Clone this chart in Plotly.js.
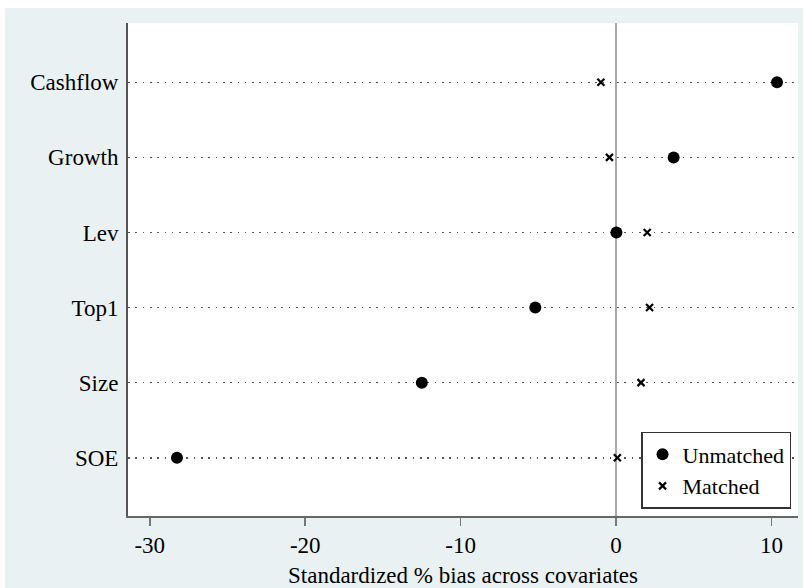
<!DOCTYPE html>
<html><head><meta charset="utf-8">
<script src="https://cdn.plot.ly/plotly-3.0.1.min.js"></script>
<style>
html,body{margin:0;padding:0;background:#ffffff;width:803px;height:588px;overflow:hidden;}
#chart{position:absolute;left:5px;top:8px;width:798px;height:580px;}
</style></head>
<body><div id="chart"></div>
<script>
const covariates = ['SOE','Size','Top1','Lev','Growth','Cashflow'];
const unmatched = [-28.25, -12.5, -5.2, 0.02, 3.7, 10.35];
const matched = [0.08, 1.6, 2.15, 2.0, -0.43, -0.98];
const xTickVals = [-30, -20, -10, 0, 10];
const xTickText = ['-30', '-20', '-10', '0', '10'];

const font = {family: 'Times New Roman', size: 23, color: '#000'};

const traces = [
  {x: unmatched, y: covariates, type: 'scatter', mode: 'markers', name: 'Unmatched',
   marker: {symbol: 'circle', size: 12, color: '#000'}},
  {x: matched, y: covariates, type: 'scatter', mode: 'markers', name: 'Matched',
   marker: {symbol: 'x-thin-open', size: 7, color: '#000', line: {width: 2.2, color: '#000'}}}
];

const layout = {
  width: 798, height: 580,
  margin: {l: 123, r: 5, t: 15, b: 72, pad: 0},
  paper_bgcolor: '#eaf1f3',
  plot_bgcolor: '#ffffff',
  font: font,
  showlegend: true,
  legend: {x: 0.9896, y: 0.0142, xanchor: 'right', yanchor: 'bottom',
    bgcolor: '#ffffff', bordercolor: '#333', borderwidth: 1.5,
    itemwidth: 30, font: {family: font.family, size: 22, color: '#000'}, tracegroupgap: 0},
  xaxis: {
    range: [-31.4, 11.7], tickvals: xTickVals, ticktext: xTickText,
    ticks: 'outside', ticklen: 8, tickwidth: 1.5, tickcolor: '#777',
    showline: true, linecolor: '#666', linewidth: 1.5,
    showgrid: false, zeroline: true, zerolinecolor: '#a8a8a8', zerolinewidth: 1.6,
    tickfont: font,
    title: {text: 'Standardized % bias across covariates', font: font, standoff: 12},
    fixedrange: true
  },
  yaxis: {
    type: 'category', categoryorder: 'array', categoryarray: covariates,
    range: [-0.776, 5.79],
    ticks: '', ticklabelstandoff: 3,
    showline: true, linecolor: '#555', linewidth: 2,
    showgrid: true, gridcolor: '#555', gridwidth: 1.6, griddash: '1.6px,5.7px',
    zeroline: false, tickfont: font, fixedrange: true
  }
};

Plotly.newPlot('chart', traces, layout, {displayModeBar: false, staticPlot: true});
</script></body></html>
